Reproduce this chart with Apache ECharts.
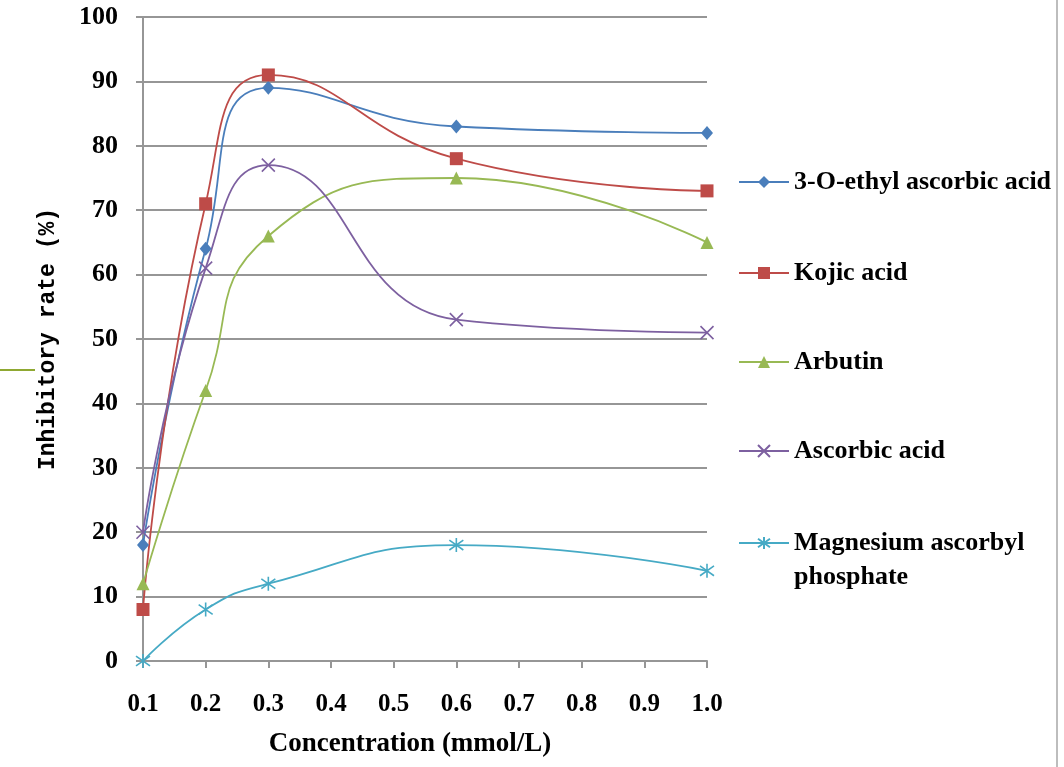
<!DOCTYPE html>
<html>
<head>
<meta charset="utf-8">
<script src="https://cdn.jsdelivr.net/npm/echarts@6/dist/echarts.min.js"></script>
<style>
  html, body { margin: 0; padding: 0; background: #fff; }
  #chart { width: 1064px; height: 767px; }
</style>
</head>
<body>
<div id="chart"></div>
<script>
// data
const concentration = [0.1, 0.2, 0.3, 0.6, 1.0];
const ethylAscorbic = [18, 64, 89, 83, 82];
const kojic = [8, 71, 91, 78, 73];
const arbutin = [12, 42, 66, 75, 65];
const ascorbic = [20, 61, 77, 53, 51];
const magnesium = [0, 8, 12, 18, 14];
const seriesNames = ['3-O-ethyl ascorbic acid', 'Kojic acid', 'Arbutin', 'Ascorbic acid', 'Magnesium ascorbyl phosphate'];

var font = 'Liberation Serif';
var colors = ['#4a7ebb', '#be4b48', '#98b954', '#7d60a0', '#46aac5'];

function pairs(vals) {
  return concentration.map(function (c, i) { return [c, vals[i]]; });
}

var crossPath = 'path://M0,0L10,10M10,0L0,10';
var starPath = 'path://M0,1.5L10,8.5M10,1.5L0,8.5M5,0L5,10';

function makeSeries(i, vals, symbol, size, stroked) {
  var s = {
    name: seriesNames[i],
    type: 'line',
    data: pairs(vals),
    smooth: 0.5,
    symbol: symbol,
    symbolSize: size,
    showSymbol: true,
    lineStyle: { color: colors[i], width: 1.8 },
    itemStyle: { color: colors[i] },
    emphasis: { disabled: true }
  };
  if (stroked) {
    s.itemStyle = { color: 'rgba(0,0,0,0)', borderColor: colors[i], borderWidth: 1.6 };
  }
  return s;
}

var legendTops = [165, 256, 345, 434, 492];
var legends = seriesNames.map(function (n, i) {
  return {
    data: [n],
    left: 738,
    top: legendTops[i],
    padding: 0,
    itemWidth: 50,
    itemHeight: 15,
    selectedMode: false,
    formatter: function (name) {
      return name === 'Magnesium ascorbyl phosphate' ? '\nMagnesium ascorbyl\nphosphate' : name;
    },
    textStyle: { fontFamily: font, fontWeight: 'bold', fontSize: 26, color: '#000', lineHeight: 34 }
  };
});

var chart = echarts.init(document.getElementById('chart'));
chart.setOption({
  animation: false,
  backgroundColor: '#fff',
  grid: { left: 143, right: 357, top: 17, bottom: 106, containLabel: false },
  legend: legends,
  xAxis: {
    type: 'value',
    min: 0.1,
    max: 1.0,
    interval: 0.1,
    name: 'Concentration (mmol/L)',
    nameLocation: 'middle',
    nameGap: 70,
    nameTextStyle: { fontFamily: font, fontWeight: 'bold', fontSize: 27, color: '#000', padding: [0, 30, 0, 0] },
    axisLine: { show: true, lineStyle: { color: '#969696', width: 2 } },
    axisTick: { show: true, length: 7, lineStyle: { color: '#969696', width: 2 } },
    axisLabel: {
      margin: 31,
      fontFamily: font, fontWeight: 'bold', fontSize: 25, color: '#000',
      formatter: function (v) { return v.toFixed(1); }
    },
    splitLine: { show: false }
  },
  yAxis: {
    type: 'value',
    min: 0,
    max: 100,
    interval: 10,
    name: 'Inhibitory rate (%)',
    nameLocation: 'middle',
    nameGap: 83,
    nameTextStyle: { fontFamily: 'Liberation Mono', fontWeight: 'bold', fontSize: 23, color: '#000' },
    axisLine: { show: true, lineStyle: { color: '#969696', width: 2 } },
    axisTick: { show: true, length: 7, lineStyle: { color: '#969696', width: 2 } },
    axisLabel: { margin: 25, fontFamily: font, fontWeight: 'bold', fontSize: 26, color: '#000' },
    splitLine: { show: true, lineStyle: { color: '#969696', width: 2 } }
  },
  series: [
    makeSeries(0, ethylAscorbic, 'diamond', [12, 14], false),
    makeSeries(1, kojic, 'rect', 13, false),
    makeSeries(2, arbutin, 'triangle', 13, false),
    makeSeries(3, ascorbic, crossPath, 13, true),
    makeSeries(4, magnesium, starPath, 14, true)
  ],
  graphic: [
    { type: 'line', shape: { x1: 0, y1: 370, x2: 35, y2: 370 }, style: { stroke: '#8fa832', lineWidth: 2 } },
    { type: 'line', shape: { x1: 1057, y1: 0, x2: 1057, y2: 767 }, style: { stroke: '#bdbdbd', lineWidth: 2 } }
  ]
});
</script>
</body>
</html>
